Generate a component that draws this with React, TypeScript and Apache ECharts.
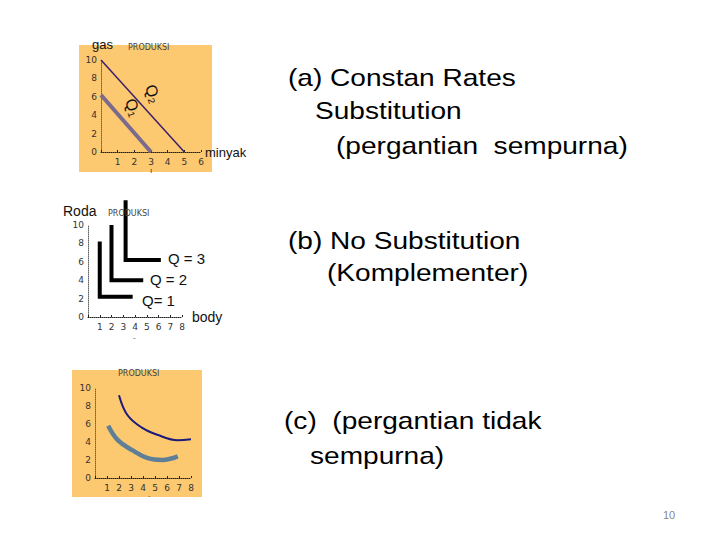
import React, { useEffect, useRef } from "react";
import * as echarts from "echarts";

// Chart (a): perfect substitutes
const aQ1 = [[0, 6.2], [3, 0]];
const aQ2 = [[0, 10], [5, 0]];

// Chart (b): complements (L-shaped)
const bQ1 = [[1, 8.2], [1, 2.2], [3.8, 2.2]];
const bQ2 = [[2, 10], [2, 4], [4.7, 4]];
const bQ3 = [[3.2, 12.7], [3.2, 6.2], [6.2, 6.2]];

// Chart (c): imperfect substitutes
const cUpper = [[2.0, 9.2], [2.7, 7.0], [3.9, 5.6], [5.2, 4.8], [6.9, 4.2], [8.0, 4.3]];
const cLower = [[1.1, 5.8], [1.9, 4.2], [3.1, 3.1], [4.4, 2.2], [5.6, 2.0], [6.9, 2.4]];

const textLines = [
  { t: "(a) Constan Rates", x: 288, y: 78 },
  { t: "Substitution", x: 315, y: 111 },
  { t: "(pergantian  sempurna)", x: 336, y: 146 },
  { t: "(b) No Substitution", x: 288, y: 241 },
  { t: "(Komplementer)", x: 327, y: 273 },
  { t: "(c)  (pergantian tidak", x: 284, y: 421 },
  { t: "sempurna)", x: 310, y: 456 },
];

const ORANGE = "#fcc870";
const tickFont = { fontSize: 9, color: "#333", fontFamily: "DejaVu Sans" };

function xAxis(gridIndex: number, max: number) {
  return {
    type: "value",
    gridIndex,
    min: 0,
    max,
    interval: 1,
    axisLine: { show: true, lineStyle: { color: "#222", width: 1, type: "dotted" } },
    axisTick: { show: true, length: 2, inside: true, lineStyle: { color: "#222" } },
    axisLabel: { ...tickFont, margin: 5, formatter: (v: number) => (v === 0 ? "" : String(v)) },
    splitLine: { show: false },
  };
}
function yAxis(gridIndex: number) {
  return {
    type: "value",
    gridIndex,
    min: 0,
    max: 10,
    interval: 2,
    axisLine: { show: true, lineStyle: { color: "#666", width: 1, type: "dotted" } },
    axisTick: { show: false },
    axisLabel: { ...tickFont, margin: 4 },
    splitLine: { show: false },
  };
}

export default function App() {
  const ref = useRef<HTMLDivElement>(null);
  useEffect(() => {
    if (!ref.current) return;
    const chart = echarts.init(ref.current, null, { renderer: "svg" });
    const label = (t: string, x: number, y: number, size: number, extra: any = {}, el: any = {}) => ({
      type: "text",
      x,
      y,
      z: 10,
      ...el,
      style: {
        text: t,
        fontSize: size,
        fontFamily: "Liberation Sans",
        fill: "#111",
        textVerticalAlign: "middle",
        ...extra,
      },
    });
    chart.setOption({
      animation: false,
      backgroundColor: "#ffffff",
      grid: [
        { left: 101, top: 60, width: 100, height: 92 },
        { left: 88, top: 225, width: 94, height: 92 },
        { left: 95, top: 388, width: 96, height: 90 },
      ],
      xAxis: [xAxis(0, 6), xAxis(1, 8), xAxis(2, 8)],
      yAxis: [yAxis(0), yAxis(1), yAxis(2)],
      series: [
        { type: "line", xAxisIndex: 0, yAxisIndex: 0, data: aQ2, symbol: "none", lineStyle: { color: "#3b1f6e", width: 1.5 } },
        { type: "line", xAxisIndex: 0, yAxisIndex: 0, data: aQ1, symbol: "none", lineStyle: { color: "#7a6a8c", width: 4 } },
        { type: "line", xAxisIndex: 1, yAxisIndex: 1, data: bQ1, symbol: "none", clip: false, lineStyle: { color: "#000", width: 4, join: "miter" } },
        { type: "line", xAxisIndex: 1, yAxisIndex: 1, data: bQ2, symbol: "none", clip: false, lineStyle: { color: "#000", width: 4, join: "miter" } },
        { type: "line", xAxisIndex: 1, yAxisIndex: 1, data: bQ3, symbol: "none", clip: false, lineStyle: { color: "#000", width: 4, join: "miter" } },
        { type: "line", xAxisIndex: 2, yAxisIndex: 2, data: cUpper, smooth: 0.4, symbol: "none", lineStyle: { color: "#1c1a7a", width: 2 } },
        { type: "line", xAxisIndex: 2, yAxisIndex: 2, data: cLower, smooth: 0.4, symbol: "none", lineStyle: { color: "#5f7f97", width: 4.5 } },
      ],
      graphic: [
        { type: "rect", z: -1, shape: { x: 79, y: 45, width: 133, height: 127 }, style: { fill: ORANGE } },
        { type: "rect", z: -1, shape: { x: 72, y: 370, width: 130, height: 127 }, style: { fill: ORANGE } },
        label("gas", 92, 44, 13),
        label("PRODUKSI", 128, 47, 8, { fill: "#444", fontFamily: "DejaVu Sans" }),
        label("minyak", 205, 152, 13),
        label("Q\u2082", 150, 85, 16, {}, { rotation: -1.25 }),
        label("Q\u2081", 130, 99, 16, {}, { rotation: -1.25 }),
        label("ı", 150, 170, 8, { fill: "#333" }),
        label("Roda", 63, 211, 14),
        label("PRODUKSI", 108, 213, 8, { fill: "#444", fontFamily: "DejaVu Sans" }),
        label("Q = 3", 168, 258, 15),
        label("Q = 2", 150, 279, 15),
        label("Q= 1", 142, 300, 15),
        label("body", 192, 317, 14),
        label("-", 133, 337, 8, { fill: "#555" }),
        label("PRODUKSI", 118, 373, 8, { fill: "#444", fontFamily: "DejaVu Sans" }),
        label("-", 148, 495, 7, { fill: "#555" }),
        ...textLines.map((l) => label(l.t, l.x, l.y, 24, { fill: "#000" }, { scaleX: 1.17 })),
        label("10", 663, 515, 11, { fill: "#888" }),
      ],
    });
    return () => chart.dispose();
  }, []);
  return <div ref={ref} style={{ position: "absolute", left: 0, top: 0, width: 720, height: 540 }} />;
}
